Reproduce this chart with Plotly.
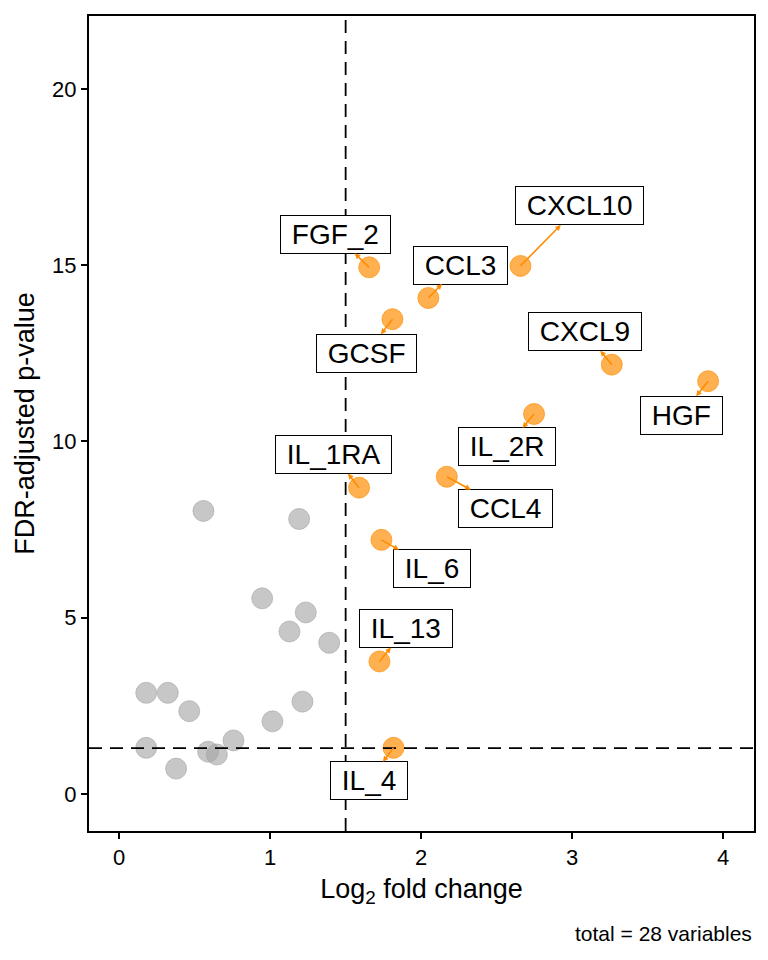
import numpy as np
import plotly.graph_objects as go

# volcano plot data (log2 fold change vs FDR-adjusted -log10 p)
sig_names = ['FGF_2', 'CCL3', 'CXCL10', 'GCSF', 'CXCL9', 'HGF',
             'IL_1RA', 'IL_2R', 'CCL4', 'IL_6', 'IL_13', 'IL_4']
sig_lfc = [1.656, 2.048, 2.658, 1.810, 3.263, 3.901,
           1.589, 2.748, 2.170, 1.737, 1.724, 1.817]
sig_p = [14.94, 14.07, 14.98, 13.47, 12.18, 11.71,
         8.69, 10.78, 9.00, 7.21, 3.76, 1.31]

ns_lfc = [0.558, 1.192, 0.947, 1.236, 1.128, 1.391, 0.179, 0.322,
          0.464, 1.015, 1.214, 0.757, 0.179, 0.377, 0.589, 0.647]
ns_p = [8.03, 7.80, 5.55, 5.15, 4.61, 4.29, 2.87, 2.87,
        2.35, 2.06, 2.62, 1.52, 1.31, 0.72, 1.20, 1.12]

LFC_CUT = 1.5
P_CUT = -np.log10(0.05)

x_ticks = [0, 1, 2, 3, 4]
y_ticks = [0, 5, 10, 15, 20]

# where the repelled labels sit, pixel offset from their point
label_offset = {
    'FGF_2': (-34, -33), 'CCL3': (32, -33), 'CXCL10': (59, -60),
    'GCSF': (-26, 34), 'CXCL9': (-27, -33), 'HGF': (-27, 34),
    'IL_1RA': (-26, -33), 'IL_2R': (-27, 33), 'CCL4': (59, 32),
    'IL_6': (51, 29), 'IL_13': (27, -33), 'IL_4': (-25, 33),
}

FONT = 'Liberation Sans, Arial, sans-serif'
ORANGE = 'rgba(255,140,0,0.68)'
GREY = 'rgba(165,165,165,0.62)'

fig = go.Figure()
fig.add_trace(go.Scatter(
    x=ns_lfc, y=ns_p, mode='markers',
    marker=dict(size=21, color=GREY, line=dict(width=1, color=GREY)),
    showlegend=False))
fig.add_trace(go.Scatter(
    x=sig_lfc, y=sig_p, mode='markers',
    marker=dict(size=21, color=ORANGE, line=dict(width=1, color=ORANGE)),
    showlegend=False))

# cut-off lines
fig.add_shape(type='line', xref='x', yref='paper', x0=LFC_CUT, x1=LFC_CUT,
              y0=0, y1=1, line=dict(color='black', width=1.8, dash='13px,8px'))
fig.add_shape(type='line', xref='paper', yref='y', x0=0, x1=1,
              y0=P_CUT, y1=P_CUT, line=dict(color='black', width=1.8, dash='13px,8px'))

for name, xv, yv in zip(sig_names, sig_lfc, sig_p):
    ox, oy = label_offset[name]
    fig.add_annotation(
        x=xv, y=yv, ax=ox, ay=oy,
        text='&nbsp;' + name + '&nbsp;',
        showarrow=True, arrowside='start',
        startarrowhead=2, startarrowsize=0.7,
        arrowcolor='darkorange', arrowwidth=1.6,
        standoff=0, startstandoff=0,
        bgcolor='white', bordercolor='black', borderwidth=1, borderpad=3,
        font=dict(family=FONT, size=28, color='black'))

fig.add_annotation(
    text='total = 28 variables', xref='paper', yref='paper',
    x=1, y=-0.126, xanchor='right', yanchor='middle', showarrow=False,
    font=dict(family=FONT, size=21, color='black'))

axis_style = dict(
    showline=True, mirror=True, linecolor='black', linewidth=2,
    ticks='outside', ticklen=6, tickwidth=1.5, tickcolor='black',
    showgrid=False, zeroline=False,
    tickfont=dict(family=FONT, size=22, color='black'))

fig.update_xaxes(range=[-0.2, 4.205], tickvals=x_ticks,
                 title=dict(text='Log<sub>2</sub> fold change', standoff=10,
                            font=dict(family=FONT, size=27, color='black')),
                 **axis_style)
fig.update_yaxes(range=[-1.05, 22.07], tickvals=y_ticks,
                 title=dict(text='FDR-adjusted p-value', standoff=10,
                            font=dict(family=FONT, size=27, color='black')),
                 **axis_style)

# page body has an 8px margin, so size the figure to fit inside it
fig.update_layout(
    width=760, height=952,
    margin=dict(l=81, r=14, t=6, b=129),
    plot_bgcolor='white', paper_bgcolor='white',
    font=dict(family=FONT))

fig.write_html('out.html')
